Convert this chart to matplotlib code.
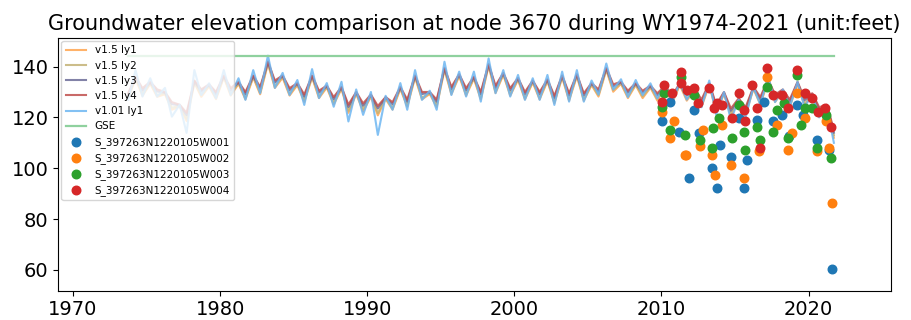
import matplotlib
matplotlib.use("Agg")
import matplotlib.pyplot as plt

# water years 1974-2021: one spring high and one fall low per calendar year
YEARS = list(range(1974, 2022))
START_T = 1973.75

# v1.01 ly1
V101_START = 126.9
V101_PEAK = [138.6, 135.4, 131.6, 125.0, 138.6, 133.4, 138.6, 135.4, 138.6, 144.3,
             137.5, 134.7, 139.0, 133.5, 134.0, 131.0, 130.0, 128.5, 133.5, 138.6,
             130.5, 141.9, 138.0, 138.0, 143.2, 138.6, 136.7, 135.4, 136.7, 138.0,
             138.6, 134.5, 141.2, 135.0, 134.7, 133.4, 133.0, 134.0, 132.0, 134.5,
             130.0, 127.0, 132.0, 136.0, 131.0, 134.0, 129.0, 124.0]
V101_LOW = [128.2, 128.2, 120.3, 113.9, 128.8, 127.5, 128.8, 126.9, 129.5, 131.6,
            128.8, 124.9, 127.6, 124.2, 118.4, 121.0, 113.1, 123.0, 123.0, 126.9,
            123.0, 128.8, 128.2, 126.2, 129.5, 128.2, 126.9, 126.9, 124.9, 126.2,
            126.2, 129.0, 131.0, 128.0, 128.8, 127.5, 126.0, 127.0, 124.0, 121.0,
            119.0, 120.0, 125.0, 126.0, 124.0, 124.0, 120.0, 110.0]

# v1.5 layers
LY4_START = 129.5
LY4_PEAK = [136.0, 134.0, 130.0, 125.0, 134.5, 133.0, 136.5, 134.0, 136.5, 142.0,
            136.5, 133.5, 136.5, 132.5, 132.0, 130.0, 129.0, 128.0, 132.0, 136.5,
            130.0, 139.5, 137.0, 136.0, 141.0, 137.5, 135.5, 134.5, 135.0, 136.5,
            137.0, 133.5, 139.5, 134.0, 133.5, 132.5, 132.5, 133.5, 131.5, 133.5,
            130.0, 127.5, 132.0, 135.0, 131.0, 134.0, 129.5, 125.0]
LY4_LOW = [131.5, 131.0, 126.0, 121.8, 131.0, 130.0, 131.5, 130.0, 132.0, 134.5,
           131.5, 129.0, 130.5, 128.0, 125.0, 125.5, 124.5, 126.0, 127.0, 130.0,
           127.0, 132.0, 131.5, 130.0, 132.5, 131.5, 130.0, 130.0, 128.5, 129.5,
           129.5, 131.0, 133.0, 130.5, 130.5, 129.5, 128.5, 129.5, 127.0, 125.0,
           123.5, 124.0, 128.0, 129.0, 127.0, 127.5, 124.0, 115.0]

LY3_START = 129.0
LY3_PEAK = [135.7, 133.7, 129.7, 124.8, 134.2, 132.7, 136.2, 133.7, 136.2, 141.7,
            136.2, 133.2, 136.2, 132.2, 131.7, 129.7, 128.7, 127.8, 131.7, 136.2,
            129.7, 139.2, 136.7, 135.7, 140.7, 137.2, 135.2, 134.2, 134.7, 136.2,
            136.7, 133.2, 139.2, 133.7, 133.2, 132.2, 132.2, 133.2, 131.2, 133.2,
            129.7, 127.2, 131.7, 134.7, 130.7, 133.7, 129.2, 124.6]
LY3_LOW = [130.6, 130.2, 125.2, 120.9, 130.2, 129.2, 130.7, 129.2, 131.2, 133.7,
           130.7, 128.2, 129.7, 127.2, 124.1, 124.6, 123.5, 125.2, 126.2, 129.2,
           126.2, 131.2, 130.7, 129.2, 131.7, 130.7, 129.2, 129.2, 127.7, 128.7,
           128.7, 130.2, 132.2, 129.7, 129.7, 128.7, 127.7, 128.7, 126.2, 124.1,
           122.6, 123.2, 127.2, 128.2, 126.2, 126.7, 123.2, 114.0]

LY2_START = 128.0
LY2_PEAK = [135.5, 133.5, 129.5, 124.6, 134.0, 132.5, 136.0, 133.5, 136.0, 141.5,
            136.0, 133.0, 136.0, 132.0, 131.5, 129.5, 128.5, 127.5, 131.5, 136.0,
            129.5, 139.0, 136.5, 135.5, 140.5, 137.0, 135.0, 134.0, 134.5, 136.0,
            136.5, 133.0, 139.0, 133.5, 133.0, 132.0, 132.0, 133.0, 131.0, 133.0,
            129.5, 127.0, 131.5, 134.5, 130.5, 133.5, 129.0, 124.5]
LY2_LOW = [129.3, 128.8, 123.8, 119.4, 128.8, 127.8, 129.3, 127.8, 129.8, 132.3,
           129.3, 126.8, 128.3, 125.8, 122.6, 123.2, 121.7, 123.8, 124.8, 127.8,
           124.8, 129.8, 129.3, 127.8, 130.3, 129.3, 127.8, 127.8, 126.3, 127.3,
           127.3, 128.8, 130.8, 128.3, 128.3, 127.3, 126.3, 127.3, 124.8, 122.8,
           121.3, 121.8, 125.8, 126.8, 124.8, 125.3, 121.8, 113.0]

LY1_START = 127.5
LY1_PEAK = [135.2, 133.2, 129.1, 124.3, 133.6, 132.2, 135.7, 133.2, 135.7, 141.1,
            135.6, 132.7, 135.7, 131.7, 131.2, 129.2, 128.1, 127.2, 131.2, 135.7,
            129.2, 138.7, 136.2, 135.2, 140.2, 136.7, 134.7, 133.7, 134.2, 135.7,
            136.2, 132.7, 138.7, 133.2, 132.7, 131.7, 131.7, 132.7, 130.7, 132.7,
            129.2, 126.7, 131.2, 134.2, 130.2, 133.2, 128.7, 124.0]
LY1_LOW = [128.5, 128.1, 123.0, 118.6, 128.1, 127.2, 128.6, 127.1, 129.1, 131.6,
           128.6, 126.1, 127.6, 125.1, 121.8, 122.4, 120.8, 123.1, 124.2, 127.1,
           124.1, 129.1, 128.6, 127.1, 129.6, 128.6, 127.1, 127.1, 125.6, 126.6,
           126.6, 128.2, 130.1, 127.6, 127.6, 126.6, 125.6, 126.6, 124.1, 122.0,
           120.5, 121.1, 125.1, 126.1, 124.1, 124.6, 121.1, 112.0]

GSE = 144.0

# observation wells
W001_T = [2010.05, 2010.6, 2011.2, 2011.85, 2012.2, 2012.55, 2013.45, 2013.8, 2014.0,
          2014.7, 2015.25, 2015.6, 2015.8, 2016.5, 2016.95, 2017.6, 2018.2, 2018.7,
          2019.2, 2019.65, 2020.55, 2021.4, 2021.6]
W001_V = [118.4, 126.2, 114.4, 96.2, 123.0, 113.8, 100.1, 92.2, 109.2,
          104.6, 119.7, 92.2, 103.3, 119.0, 126.2, 118.4, 121.0, 112.5,
          124.9, 121.0, 111.2, 107.3, 60.5]
W002_T = [2010.05, 2010.6, 2010.85, 2011.6, 2011.7, 2012.65, 2012.85, 2013.45, 2013.65,
          2014.1, 2014.7, 2015.6, 2016.6, 2017.15, 2017.85, 2018.6, 2018.9, 2019.2,
          2019.75, 2020.55, 2021.2, 2021.4, 2021.6]
W002_V = [122.3, 111.8, 118.4, 105.3, 105.3, 108.6, 115.1, 105.3, 97.5,
          117.1, 101.4, 96.2, 106.6, 136.0, 117.1, 107.3, 114.0, 129.5,
          119.7, 106.6, 118.4, 107.9, 86.4]
W003_T = [2010.05, 2010.2, 2010.6, 2011.3, 2011.6, 2012.2, 2012.65, 2013.45, 2013.5,
          2013.9, 2014.8, 2015.25, 2015.6, 2015.7, 2016.5, 2016.7, 2017.15, 2017.6,
          2017.85, 2018.3, 2018.6, 2019.2, 2019.5, 2019.75, 2020.2, 2020.55, 2021.2,
          2021.55]
W003_V = [124.2, 129.5, 115.1, 136.0, 113.1, 128.8, 111.2, 107.9, 115.8,
          119.7, 111.8, 124.9, 114.4, 107.3, 116.4, 111.2, 132.1, 114.4,
          123.0, 125.6, 111.8, 136.7, 117.1, 123.6, 123.6, 107.9, 121.0,
          104.0]
W004_T = [2010.05, 2010.17, 2010.7, 2011.3, 2011.35, 2011.75, 2012.2, 2012.5, 2013.2,
          2013.55, 2013.8, 2014.1, 2014.8, 2015.25, 2015.6, 2015.7, 2016.15, 2016.5,
          2016.7, 2017.15, 2017.6, 2018.2, 2018.6, 2019.2, 2019.75, 2020.2, 2020.65,
          2021.1, 2021.55]
W004_V = [126.2, 132.7, 129.5, 138.0, 133.4, 130.8, 131.4, 125.6, 131.4,
          123.6, 125.6, 124.9, 119.7, 129.5, 123.0, 118.4, 132.7, 123.6,
          107.9, 139.3, 128.8, 128.8, 123.6, 138.6, 129.5, 127.5, 122.3,
          123.6, 116.4]


def seasonal_series(start, peaks, lows):
    assert len(peaks) == len(YEARS) and len(lows) == len(YEARS)
    t, v = [START_T], [start]
    for yr, hi, lo in zip(YEARS, peaks, lows):
        t += [yr + 0.25, yr + 0.72]
        v += [hi, lo]
    return t, v


fig = plt.figure(figsize=(9.11, 3.2), dpi=100)
ax = fig.add_axes([0.064, 0.092, 0.914, 0.789])

lines = [
    ("v1.5 ly1", LY1_START, LY1_PEAK, LY1_LOW, "#ffa54f"),
    ("v1.5 ly2", LY2_START, LY2_PEAK, LY2_LOW, "#c4b276"),
    ("v1.5 ly3", LY3_START, LY3_PEAK, LY3_LOW, "#6c6c98"),
    ("v1.5 ly4", LY4_START, LY4_PEAK, LY4_LOW, "#c0504d"),
    ("v1.01 ly1", V101_START, V101_PEAK, V101_LOW, "#6db6f2"),
]
for label, start, peaks, lows, color in lines:
    t, v = seasonal_series(start, peaks, lows)
    ax.plot(t, v, color=color, lw=1.5, alpha=0.85, label=label)

ax.plot([START_T, 2021.75], [GSE, GSE], color="#8fd19e", lw=1.6, label="GSE")

wells = [
    ("S_397263N1220105W001", W001_T, W001_V, "tab:blue"),
    ("S_397263N1220105W002", W002_T, W002_V, "tab:orange"),
    ("S_397263N1220105W003", W003_T, W003_V, "tab:green"),
    ("S_397263N1220105W004", W004_T, W004_V, "tab:red"),
]
for label, t, v, color in wells:
    ax.scatter(t, v, s=38, color=color, label=label, zorder=3)

ax.set_xlim(1969.0, 2025.6)
ax.set_ylim(51.9, 151.2)
ax.set_xticks([1970, 1980, 1990, 2000, 2010, 2020])
ax.set_yticks([60, 80, 100, 120, 140])
ax.tick_params(labelsize=14)
ax.set_title("Groundwater elevation comparison at node 3670 during WY1974-2021 (unit:feet)",
             fontsize=15)
ax.legend(loc="upper left", fontsize=7.5, borderaxespad=0.3, labelspacing=0.5,
          handlelength=2.0)

fig.savefig("out.png", dpi=100)
